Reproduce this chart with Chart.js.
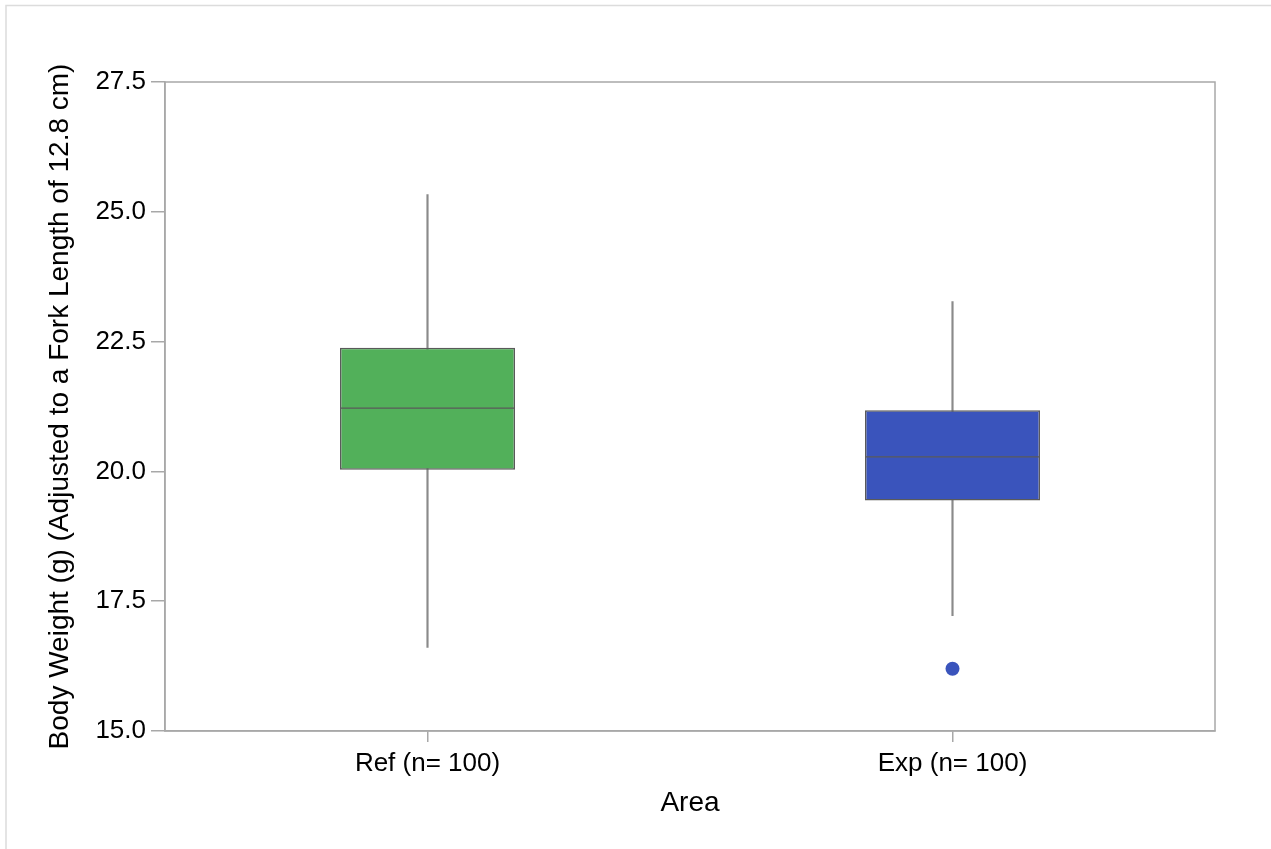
<!DOCTYPE html>
<html>
<head>
<meta charset="utf-8">
<title>Body weight by area</title>
<script src="https://cdn.jsdelivr.net/npm/chart.js@4.4.1/dist/chart.umd.min.js"></script>
<style>
  html, body { margin: 0; padding: 0; background: #fff; }
  #wrap { position: relative; width: 1271px; height: 849px; }
</style>
</head>
<body>
<div id="wrap"><canvas id="chart" width="1271" height="849"></canvas></div>
<script>
// Box plot summary values
const areas = ['Ref (n= 100)', 'Exp (n= 100)'];
const whiskerLow = [16.61, 17.22];
const q1 = [20.03, 19.44];
const median = [21.22, 20.28];
const q3 = [22.38, 21.18];
const whiskerHigh = [25.33, 23.27];
const outliers = [null, 16.2];
const boxColors = ['#52b05a', '#3a54bc'];

const yTicks = [15, 17.5, 20, 22.5, 25, 27.5];

const FONT = '"Liberation Sans", Arial, sans-serif';

// plot frame + outer page frame
const framePlugin = {
    id: 'frame',
    beforeDraw(chart) {
        const ctx = chart.ctx;
        ctx.save();
        ctx.strokeStyle = '#dcdcdc';
        ctx.lineWidth = 1.5;
        ctx.beginPath();
        ctx.moveTo(6, chart.height);
        ctx.lineTo(6, 5.5);
        ctx.lineTo(chart.width, 5.5);
        ctx.stroke();
        ctx.restore();
    },
    afterDraw(chart) {
        const a = chart.chartArea;
        const ctx = chart.ctx;
        ctx.save();
        ctx.strokeStyle = '#a8a8a8';
        ctx.lineWidth = 1.5;
        ctx.strokeRect(a.left, a.top, a.right - a.left, a.bottom - a.top);
        ctx.restore();
    }
};

function noPad(s) {
    s.paddingLeft = 0;
    s.paddingRight = 0;
    s.paddingTop = 0;
    s.paddingBottom = 0;
}

new Chart(document.getElementById('chart'), {
    data: {
        labels: areas,
        datasets: [
            {
                // whiskers: thin floating bars behind the boxes
                type: 'bar',
                data: whiskerLow.map((v, i) => [v, whiskerHigh[i]]),
                backgroundColor: '#8a8a8a',
                barThickness: 1.5,
                grouped: false,
                order: 3
            },
            {
                type: 'bar',
                data: q1.map((v, i) => [v, q3[i]]),
                backgroundColor: boxColors,
                borderColor: '#5a5a5a',
                borderWidth: 1.5,
                borderSkipped: false,
                categoryPercentage: 1,
                barPercentage: 1 / 3,
                grouped: false,
                order: 2
            },
            {
                type: 'line',
                data: median,
                showLine: false,
                pointStyle: 'line',
                pointRadius: 87,
                pointHoverRadius: 87,
                pointBorderColor: '#5a5a5a',
                pointBorderWidth: 1.2,
                order: 1
            },
            {
                type: 'line',
                data: outliers,
                showLine: false,
                pointStyle: 'circle',
                pointRadius: 7,
                pointBackgroundColor: boxColors[1],
                pointBorderColor: boxColors[1],
                pointBorderWidth: 0,
                order: 0
            }
        ]
    },
    options: {
        responsive: false,
        animation: false,
        events: [],
        layout: { autoPadding: false, padding: { left: 0, top: 82, right: 56, bottom: 0 } },
        plugins: {
            legend: { display: false },
            tooltip: { enabled: false }
        },
        scales: {
            x: {
                type: 'category',
                offset: true,
                afterFit: (s) => { s.height = 118; noPad(s); },
                grid: { drawOnChartArea: false, drawTicks: true, tickLength: 11, color: '#a8a8a8', lineWidth: 1.5, offset: false },
                border: { display: true, color: '#a8a8a8', width: 1.5 },
                ticks: { color: '#000', padding: 6, font: { family: FONT, size: 26 } },
                title: {
                    display: true,
                    text: 'Area',
                    color: '#000',
                    font: { family: FONT, size: 28 },
                    padding: { top: 0, bottom: 29 }
                }
            },
            y: {
                type: 'linear',
                min: 15,
                max: 27.5,
                afterFit: (s) => { s.width = 165; noPad(s); },
                afterBuildTicks: (s) => { s.ticks = yTicks.map(v => ({ value: v })); },
                grid: { drawOnChartArea: false, drawTicks: true, tickLength: 14, color: '#a8a8a8', lineWidth: 1.5 },
                border: { display: true, color: '#a8a8a8', width: 1.5 },
                ticks: {
                    color: '#000',
                    padding: 5,
                    font: { family: FONT, size: 26 },
                    callback: (v) => Number(v).toFixed(1)
                },
                title: {
                    display: true,
                    text: 'Body Weight (g) (Adjusted to a Fork Length of 12.8 cm)',
                    color: '#000',
                    font: { family: FONT, size: 28 },
                    padding: { top: 43, bottom: 0 }
                }
            }
        }
    },
    plugins: [framePlugin]
});
</script>
</body>
</html>
